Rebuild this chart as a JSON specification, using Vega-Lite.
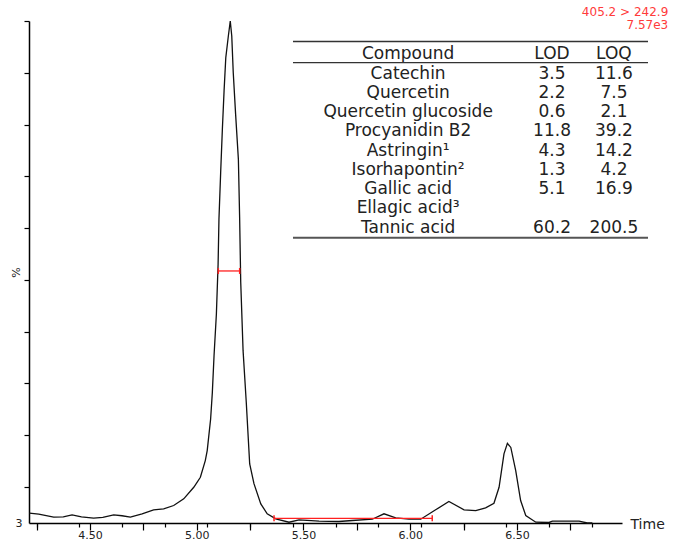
{
  "$schema": "https://vega.github.io/schema/vega-lite/v6.json",
  "width": 593,
  "height": 502,
  "padding": {"left": 10, "top": 6, "right": 0, "bottom": 0},
  "background": "white",
  "title": {
    "text": "405.2 > 242.9",
    "subtitle": "7.57e3",
    "anchor": "end",
    "frame": "bounds",
    "color": "#ff3b3b",
    "subtitleColor": "#ff3b3b",
    "font": "DejaVu Sans",
    "subtitleFont": "DejaVu Sans",
    "fontSize": 12,
    "subtitleFontSize": 12,
    "fontWeight": "normal",
    "subtitlePadding": 1,
    "offset": -17,
    "dx": 4
  },
  "config": {"view": {"stroke": null}, "axis": {"grid": false}},
  "datasets": {
    "chromatogram": [
      {"time": 4.216, "intensity": 4.9},
      {"time": 4.26, "intensity": 4.7},
      {"time": 4.33, "intensity": 4.12},
      {"time": 4.375, "intensity": 4.2},
      {"time": 4.416, "intensity": 4.58},
      {"time": 4.46, "intensity": 4.2},
      {"time": 4.517, "intensity": 3.93},
      {"time": 4.56, "intensity": 4.1},
      {"time": 4.611, "intensity": 4.58},
      {"time": 4.65, "intensity": 4.4},
      {"time": 4.689, "intensity": 4.12},
      {"time": 4.744, "intensity": 4.78},
      {"time": 4.798, "intensity": 5.55},
      {"time": 4.845, "intensity": 5.74},
      {"time": 4.892, "intensity": 6.38},
      {"time": 4.939, "intensity": 7.67},
      {"time": 4.986, "intensity": 9.91},
      {"time": 5.017, "intensity": 11.84},
      {"time": 5.04, "intensity": 15.06},
      {"time": 5.049, "intensity": 17.0},
      {"time": 5.065, "intensity": 23.1},
      {"time": 5.073, "intensity": 28.2},
      {"time": 5.081, "intensity": 35.3},
      {"time": 5.092, "intensity": 43.4},
      {"time": 5.1, "intensity": 53.0},
      {"time": 5.104, "intensity": 61.7},
      {"time": 5.112, "intensity": 70.7},
      {"time": 5.12, "intensity": 79.1},
      {"time": 5.128, "intensity": 86.5},
      {"time": 5.136, "intensity": 92.9},
      {"time": 5.148, "intensity": 97.1},
      {"time": 5.157, "intensity": 100},
      {"time": 5.164, "intensity": 97.1},
      {"time": 5.171, "intensity": 90.0},
      {"time": 5.182, "intensity": 82.0},
      {"time": 5.195, "intensity": 73.3},
      {"time": 5.201, "intensity": 61.7},
      {"time": 5.206, "intensity": 49.5},
      {"time": 5.217, "intensity": 36.3},
      {"time": 5.232, "intensity": 26.3},
      {"time": 5.248, "intensity": 14.4},
      {"time": 5.268, "intensity": 10.6},
      {"time": 5.3, "intensity": 6.7},
      {"time": 5.33, "intensity": 4.78},
      {"time": 5.37, "intensity": 3.81},
      {"time": 5.432, "intensity": 3.15},
      {"time": 5.479, "intensity": 3.62},
      {"time": 5.573, "intensity": 3.35},
      {"time": 5.666, "intensity": 3.29},
      {"time": 5.729, "intensity": 3.48},
      {"time": 5.822, "intensity": 3.73},
      {"time": 5.877, "intensity": 4.78},
      {"time": 5.932, "intensity": 4.0},
      {"time": 5.994, "intensity": 3.73},
      {"time": 6.049, "intensity": 3.73},
      {"time": 6.119, "intensity": 5.55},
      {"time": 6.181, "intensity": 7.15},
      {"time": 6.252, "intensity": 5.55},
      {"time": 6.307, "intensity": 5.41},
      {"time": 6.353, "intensity": 5.93},
      {"time": 6.392, "intensity": 6.82},
      {"time": 6.416, "intensity": 9.91},
      {"time": 6.439, "intensity": 16.36},
      {"time": 6.455, "intensity": 18.4},
      {"time": 6.471, "intensity": 17.6},
      {"time": 6.494, "intensity": 13.1},
      {"time": 6.517, "intensity": 7.34},
      {"time": 6.541, "intensity": 4.45},
      {"time": 6.588, "intensity": 3.15},
      {"time": 6.65, "intensity": 3.1},
      {"time": 6.666, "intensity": 3.35},
      {"time": 6.791, "intensity": 3.35},
      {"time": 6.829, "intensity": 3.0},
      {"time": 6.853, "intensity": 3.0}
    ],
    "markers": [
      {"start": 5.101, "end": 5.201, "level": 51.7},
      {"start": 5.362, "end": 6.103, "level": 3.9}
    ],
    "lod_loq": [
      {"Compound": "Catechin", "LOD": 3.5, "LOQ": 11.6},
      {"Compound": "Quercetin", "LOD": 2.2, "LOQ": 7.5},
      {"Compound": "Quercetin glucoside", "LOD": 0.6, "LOQ": 2.1},
      {"Compound": "Procyanidin B2", "LOD": 11.8, "LOQ": 39.2},
      {"Compound": "Astringin¹", "LOD": 4.3, "LOQ": 14.2},
      {"Compound": "Isorhapontin²", "LOD": 1.3, "LOQ": 4.2},
      {"Compound": "Gallic acid", "LOD": 5.1, "LOQ": 16.9},
      {"Compound": "Ellagic acid³", "LOD": null, "LOQ": null},
      {"Compound": "Tannic acid", "LOD": 60.2, "LOQ": 200.5}
    ]
  },
  "layer": [
    {
      "layer": [
        {
          "data": {"name": "chromatogram"},
          "mark": {"type": "line", "color": "#111111", "strokeWidth": 1.3},
          "encoding": {
            "x": {
              "field": "time",
              "type": "quantitative",
              "title": "Time",
              "scale": {"domain": [4.2143, 6.9918], "nice": false, "zero": false},
              "axis": {
                "orient": "bottom",
                "values": [4.25, 4.3, 4.35, 4.4, 4.45, 4.5, 4.55, 4.6, 4.65, 4.7, 4.75, 4.8, 4.85, 4.9, 4.95, 5, 5.05, 5.1, 5.15, 5.2, 5.25, 5.3, 5.35, 5.4, 5.45, 5.5, 5.55, 5.6, 5.65, 5.7, 5.75, 5.8, 5.85, 5.9, 5.95, 6, 6.05, 6.1, 6.15, 6.2, 6.25, 6.3, 6.35, 6.4, 6.45, 6.5, 6.55, 6.6, 6.65, 6.7, 6.75, 6.8, 6.85, 6.9, 6.95],
                "labels": false,
                "tickSize": 4,
                "tickColor": "#000000",
                "tickWidth": 1.2,
                "domainColor": "#000000",
                "domainWidth": 1.5,
                "titleFont": "DejaVu Sans",
                "titleFontSize": 14,
                "titleFontWeight": "normal",
                "titleColor": "#222222",
                "titleX": 601,
                "titleY": 1,
                "titleAlign": "left",
                "titleBaseline": "middle",
                "titleAngle": 0
              }
            },
            "y": {
              "field": "intensity",
              "type": "quantitative",
              "title": "%",
              "scale": {"domain": [3, 100], "nice": false, "zero": false},
              "axis": {
                "values": [3, 10, 20, 30, 40, 50, 60, 70, 80, 90, 100],
                "labelExpr": "datum.value == 3 ? '3' : ''",
                "tickSize": {"condition": {"test": "datum.value == 3", "value": 0}, "value": 5},
                "tickColor": "#000000",
                "tickWidth": 1.2,
                "domainColor": "#000000",
                "domainWidth": 1.5,
                "labelFont": "DejaVu Sans",
                "labelFontSize": 11,
                "labelColor": "#222222",
                "labelPadding": 7,
                "labelOverlap": false,
                "titleFont": "DejaVu Sans",
                "titleFontSize": 11,
                "titleFontWeight": "normal",
                "titleColor": "#222222",
                "titleX": -13,
                "titleY": 251,
                "titleAngle": -90,
                "titleAlign": "center",
                "titleBaseline": "middle"
              }
            }
          }
        },
        {
          "data": {"name": "markers"},
          "mark": {"type": "rule", "color": "#ff2020", "strokeWidth": 1.3},
          "encoding": {
            "x": {"field": "start", "type": "quantitative", "title": "Time", "scale": {"domain": [4.2143, 6.9918], "nice": false, "zero": false}},
            "x2": {"field": "end"},
            "y": {"field": "level", "type": "quantitative", "title": "%", "scale": {"domain": [3, 100], "nice": false, "zero": false}}
          }
        },
        {
          "data": {"name": "markers"},
          "transform": [{"fold": ["start", "end"], "as": ["edge", "position"]}],
          "mark": {"type": "point", "shape": "M0,-1L0,1", "size": 36, "color": "#ff2020", "strokeWidth": 1.5, "filled": false, "opacity": 1},
          "encoding": {
            "x": {"field": "position", "type": "quantitative", "title": "Time", "scale": {"domain": [4.2143, 6.9918], "nice": false, "zero": false}},
            "y": {"field": "level", "type": "quantitative", "title": "%", "scale": {"domain": [3, 100], "nice": false, "zero": false}}
          }
        }
      ]
    },
    {
      "layer": [
        {
          "data": {"name": "lod_loq"},
          "transform": [{"window": [{"op": "row_number", "as": "row"}]}],
          "mark": {"type": "text", "font": "DejaVu Sans", "fontSize": 17, "color": "#222222", "baseline": "middle", "align": "center"},
          "encoding": {
            "x": {
              "datum": 5.99,
              "type": "quantitative",
              "scale": {"domain": [4.2143, 6.9918], "nice": false, "zero": false},
              "axis": {
                "orient": "bottom",
                "values": [4.5, 5, 5.5, 6, 6.5],
                "format": ".2f",
                "title": null,
                "tickSize": 7,
                "tickColor": "#000000",
                "tickWidth": 1.2,
                "domain": false,
                "labelFont": "DejaVu Sans",
                "labelFontSize": 11,
                "labelColor": "#222222",
                "labelPadding": -1,
                "labelFlush": false,
                "labelOverlap": false
              }
            },
            "y": {"field": "row", "type": "quantitative", "scale": {"domain": [-1.74, 24.34], "reverse": true, "nice": false, "zero": false}, "axis": null},
            "text": {"field": "Compound"}
          }
        },
        {
          "data": {"name": "lod_loq"},
          "transform": [{"window": [{"op": "row_number", "as": "row"}]}, {"filter": "isValid(datum.LOD)"}],
          "mark": {"type": "text", "font": "DejaVu Sans", "fontSize": 17, "color": "#222222", "baseline": "middle", "align": "center"},
          "encoding": {
            "x": {
              "datum": 6.664,
              "type": "quantitative",
              "axis": {
                "orient": "bottom",
                "values": [4.25, 4.75, 5.25, 5.75, 6.25, 6.75],
                "labels": false,
                "title": null,
                "tickSize": 7,
                "tickColor": "#000000",
                "tickWidth": 1.2,
                "domain": false
              }
            },
            "y": {"field": "row", "type": "quantitative", "axis": null},
            "text": {"field": "LOD", "type": "quantitative", "format": ".1f"}
          }
        },
        {
          "data": {"name": "lod_loq"},
          "transform": [{"window": [{"op": "row_number", "as": "row"}]}, {"filter": "isValid(datum.LOQ)"}],
          "mark": {"type": "text", "font": "DejaVu Sans", "fontSize": 17, "color": "#222222", "baseline": "middle", "align": "center"},
          "encoding": {
            "x": {"datum": 6.954, "type": "quantitative", "axis": null},
            "y": {"field": "row", "type": "quantitative", "axis": null},
            "text": {"field": "LOQ", "type": "quantitative", "format": ".1f"}
          }
        },
        {
          "data": {"values": [{}]},
          "mark": {"type": "text", "font": "DejaVu Sans", "fontSize": 17, "color": "#222222", "baseline": "middle", "align": "center"},
          "encoding": {
            "x": {"datum": 5.99, "type": "quantitative", "axis": null},
            "y": {"datum": 0, "type": "quantitative", "axis": null},
            "text": {"value": "Compound"}
          }
        },
        {
          "data": {"values": [{}]},
          "mark": {"type": "text", "font": "DejaVu Sans", "fontSize": 17, "color": "#222222", "baseline": "middle", "align": "center"},
          "encoding": {
            "x": {"datum": 6.664, "type": "quantitative", "axis": null},
            "y": {"datum": 0, "type": "quantitative", "axis": null},
            "text": {"value": "LOD"}
          }
        },
        {
          "data": {"values": [{}]},
          "mark": {"type": "text", "font": "DejaVu Sans", "fontSize": 17, "color": "#222222", "baseline": "middle", "align": "center"},
          "encoding": {
            "x": {"datum": 6.954, "type": "quantitative", "axis": null},
            "y": {"datum": 0, "type": "quantitative", "axis": null},
            "text": {"value": "LOQ"}
          }
        },
        {
          "data": {"values": [{}]},
          "mark": {"type": "rule", "color": "#333333", "strokeWidth": 1.5},
          "encoding": {
            "x": {"datum": 5.4508, "type": "quantitative", "axis": null},
            "x2": {"datum": 7.1136},
            "y": {"datum": -0.675, "type": "quantitative", "axis": null}
          }
        },
        {
          "data": {"values": [{}]},
          "mark": {"type": "rule", "color": "#333333", "strokeWidth": 1.2},
          "encoding": {
            "x": {"datum": 5.4508, "type": "quantitative", "axis": null},
            "x2": {"datum": 7.1136},
            "y": {"datum": 0.42, "type": "quantitative", "axis": null}
          }
        },
        {
          "data": {"values": [{}]},
          "mark": {"type": "rule", "color": "#555555", "strokeWidth": 2},
          "encoding": {
            "x": {"datum": 5.4508, "type": "quantitative", "axis": null},
            "x2": {"datum": 7.1136},
            "y": {"datum": 9.517, "type": "quantitative", "axis": null}
          }
        }
      ],
      "resolve": {"axis": {"x": "independent"}}
    }
  ],
  "resolve": {"scale": {"y": "independent"}, "axis": {"x": "independent"}}
}
